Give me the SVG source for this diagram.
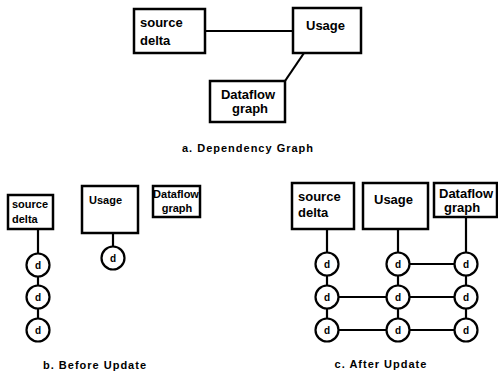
<svg xmlns="http://www.w3.org/2000/svg" width="498" height="378" viewBox="0 0 498 378">
<style>
.box{fill:#fff;stroke:#000;stroke-width:2.5}
.c{fill:#fff;stroke:#000;stroke-width:2.2}
.ln{stroke:#000;stroke-width:2.2;fill:none}
text{font-family:"Liberation Sans",Arial,sans-serif;font-weight:bold;fill:#000}
.t{font-size:13px}
.s{font-size:11px}
.d{font-size:10px;text-anchor:middle}
.cap{font-size:11px;text-anchor:middle;letter-spacing:1px}
</style>
<rect width="498" height="378" fill="#fff"/>
<g id="connectors">
<line class="ln" x1="205" y1="31" x2="293" y2="31"/>
<line class="ln" x1="304" y1="53" x2="285" y2="81"/>
<line class="ln" x1="38" y1="229" x2="38" y2="330"/>
<line class="ln" x1="113" y1="233" x2="113" y2="256"/>
<line class="ln" x1="327" y1="229" x2="327" y2="330"/>
<line class="ln" x1="398" y1="229" x2="398" y2="330"/>
<line class="ln" x1="466" y1="217" x2="466" y2="330"/>
<line class="ln" x1="398" y1="264" x2="466" y2="264"/>
<line class="ln" x1="327" y1="297" x2="466" y2="297"/>
<line class="ln" x1="327" y1="330" x2="466" y2="330"/>
</g>
<g id="a-source-delta"><rect class="box" x="134" y="9" width="71" height="44"/><text class="t" x="140" y="27">source</text><text class="t" x="140" y="45">delta</text></g>
<g id="a-usage"><rect class="box" x="293" y="8" width="68" height="45"/><text class="t" x="306" y="30">Usage</text></g>
<g id="a-dataflow"><rect class="box" x="210" y="81" width="75" height="41"/><text class="t" x="248" y="99" text-anchor="middle">Dataflow</text><text class="t" x="250" y="113" text-anchor="middle">graph</text></g>
<text class="cap" x="248" y="152">a. Dependency Graph</text>
<g id="b-source-delta"><rect class="box" x="8" y="195" width="45" height="34"/><text class="s" x="12" y="208">source</text><text class="s" x="12" y="223">delta</text></g>
<g id="b-usage"><rect class="box" x="82" y="186" width="56" height="47"/><text class="s" x="89" y="204">Usage</text></g>
<g id="b-dataflow"><rect class="box" x="153" y="186" width="47" height="31"/><text class="s" x="176" y="198" text-anchor="middle">Dataflow</text><text class="s" x="177" y="212" text-anchor="middle">graph</text></g>
<g id="b-d1"><circle class="c" cx="38" cy="265" r="11.5"/><text class="d" x="38" y="269">d</text></g>
<g id="b-d2"><circle class="c" cx="38" cy="297" r="11.5"/><text class="d" x="38" y="301">d</text></g>
<g id="b-d3"><circle class="c" cx="38" cy="330" r="11.5"/><text class="d" x="38" y="334">d</text></g>
<g id="b-d4"><circle class="c" cx="113" cy="258" r="11.5"/><text class="d" x="113" y="262">d</text></g>
<text class="cap" x="95" y="369">b. Before Update</text>
<g id="c-source-delta"><rect class="box" x="292" y="183" width="62" height="46"/><text class="t" x="298" y="201">source</text><text class="t" x="298" y="217">delta</text></g>
<g id="c-usage"><rect class="box" x="363" y="183" width="65" height="46"/><text class="t" x="374" y="204">Usage</text></g>
<g id="c-dataflow"><rect class="box" x="434" y="183" width="63" height="34"/><text class="t" x="439" y="198">Dataflow</text><text class="t" x="444" y="212">graph</text></g>
<g id="c-d11"><circle class="c" cx="327" cy="264" r="11.5"/><text class="d" x="327" y="268">d</text></g>
<g id="c-d12"><circle class="c" cx="398" cy="264" r="11.5"/><text class="d" x="398" y="268">d</text></g>
<g id="c-d13"><circle class="c" cx="466" cy="264" r="11.5"/><text class="d" x="466" y="268">d</text></g>
<g id="c-d21"><circle class="c" cx="327" cy="297" r="11.5"/><text class="d" x="327" y="301">d</text></g>
<g id="c-d22"><circle class="c" cx="398" cy="297" r="11.5"/><text class="d" x="398" y="301">d</text></g>
<g id="c-d23"><circle class="c" cx="466" cy="297" r="11.5"/><text class="d" x="466" y="301">d</text></g>
<g id="c-d31"><circle class="c" cx="327" cy="330" r="11.5"/><text class="d" x="327" y="334">d</text></g>
<g id="c-d32"><circle class="c" cx="398" cy="330" r="11.5"/><text class="d" x="398" y="334">d</text></g>
<g id="c-d33"><circle class="c" cx="466" cy="330" r="11.5"/><text class="d" x="466" y="334">d</text></g>
<text class="cap" x="381" y="368">c. After Update</text>
</svg>
